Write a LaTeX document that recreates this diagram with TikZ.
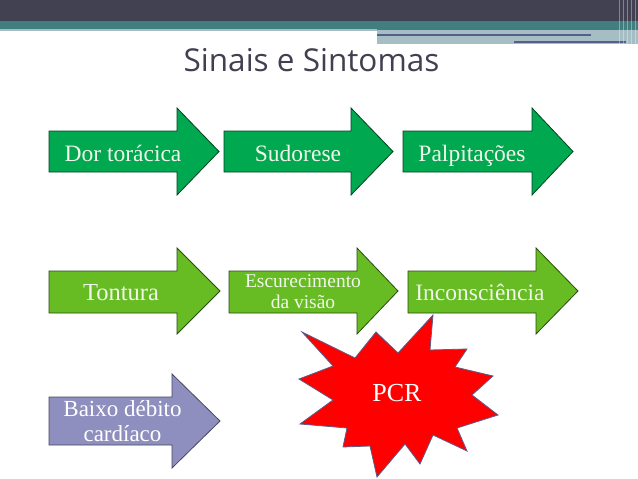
\documentclass[tikz,border=0pt]{standalone}
\usepackage{fontspec}
\setmainfont{Liberation Serif}
\newfontfamily\titulofont{Open Sans}
\definecolor{faixaescura}{RGB}{65,65,82}
\definecolor{faixaverde}{RGB}{66,126,128}
\definecolor{faixaclara}{RGB}{164,190,196}
\definecolor{linhaazul}{RGB}{88,94,140}
\definecolor{verdeforte}{RGB}{0,168,80}
\definecolor{verdeclaro}{RGB}{102,188,34}
\definecolor{lilas}{RGB}{142,143,190}
\definecolor{vermelho}{RGB}{255,0,0}
\definecolor{textoclaro}{RGB}{240,246,234}
\definecolor{titulocor}{RGB}{64,64,80}
\begin{document}
\begin{tikzpicture}[x=1pt, y=-1pt,
		seta1/.style={fill=verdeforte, draw=black!60!verdeforte, line width=0.8pt},
		seta2/.style={fill=verdeclaro, draw=black!60!verdeclaro, line width=0.8pt},
		seta3/.style={fill=lilas, draw=black!50!lilas, line width=0.8pt},
		rotulo/.style={text=textoclaro, inner sep=0pt, anchor=base, font=\fontsize{23.5}{26}\selectfont},
		rotulomenor/.style={rotulo, align=center, font=\fontsize{19.5}{21}\selectfont}]
	\useasboundingbox (0,0) rectangle (638,479);
	% --- cabeçalho ---
	\fill[faixaescura] (0,0) rectangle (638,21);
	\fill[faixaverde] (0,21) rectangle (638,29.5);
	\fill[faixaclara] (0,28.5) rectangle (377,31);
	\fill[faixaclara] (377,29.5) rectangle (638,43.5);
	\draw[linhaazul, line width=2pt] (377,35) -- (591,35);
	\draw[linhaazul, line width=2pt] (514,42) -- (626,42);
	\foreach \xs in {619,623,627,631,635}
		\draw[white, opacity=0.35, line width=0.8pt] (\xs,0) -- (\xs,43.5);
	\node[text=titulocor, anchor=base, inner sep=0pt, font=\titulofont\fontsize{31.5}{33}\selectfont] (titulo) at (311.5,71.5) {Sinais e Sintomas};

	% --- primeira linha ---
	\draw[seta1] (49,131) -- (177,131) -- (177,108) -- (219,151.5) -- (177,195) -- (177,172) -- (49,172) -- cycle;
	\draw[seta1] (224,131) -- (351,131) -- (351,108) -- (393,151.5) -- (351,195) -- (351,172) -- (224,172) -- cycle;
	\draw[seta1] (403,131) -- (532,131) -- (532,108) -- (573,151.5) -- (532,195) -- (532,172) -- (403,172) -- cycle;
	\node[rotulo] (dor) at (123,161.5) {Dor torácica};
	\node[rotulo] (sudorese) at (298,161.5) {Sudorese};
	\node[rotulo] (palpitacoes) at (472,161.5) {Palpitações};

	% --- segunda linha ---
	\draw[seta2] (49,271) -- (177,271) -- (177,248) -- (220,291) -- (177,334) -- (177,313) -- (49,313) -- cycle;
	\draw[seta2] (229,271) -- (357,271) -- (357,248) -- (398,291) -- (357,334) -- (357,313) -- (229,313) -- cycle;
	\draw[seta2] (408,271) -- (536,271) -- (536,248) -- (578,291) -- (536,334) -- (536,313) -- (408,313) -- cycle;
	\node[rotulo, font=\fontsize{24.5}{26}\selectfont] (tontura) at (121,300) {Tontura};
	\node[rotulomenor] (escurecimento) at (303,308) {Escurecimento\\da visão};
	\node[rotulo] (inconsciencia) at (480,300) {Inconsciência};

	% --- terceira linha ---
	\draw[seta3] (49,397) -- (172,397) -- (172,374) -- (220,421) -- (172,468) -- (172,445) -- (49,445) -- cycle;
	\node[rotulo, align=center, text=white, font=\fontsize{23}{25}\selectfont] (baixo) at (122.5,441.5) {Baixo débito\\cardíaco};

	% PCR (explosão)
	\draw[fill=vermelho, draw=linhaazul, line width=0.8pt]
		(302,332) -- (355,358) -- (376,332) -- (398,353) -- (433,315) -- (430,350)
		-- (467,349) -- (455,367) -- (493,376) -- (472,395) -- (498,415) -- (457,428)
		-- (467,451) -- (433,435) -- (420,464) -- (405,444) -- (377,477) -- (370,446)
		-- (343,447) -- (347,428) -- (300,424) -- (333,400) -- (299,379) -- (333,366) -- cycle;
	\node[rotulo, text=white, font=\fontsize{26}{28}\selectfont] (pcr) at (397,401) {PCR};
\end{tikzpicture}
\end{document}
